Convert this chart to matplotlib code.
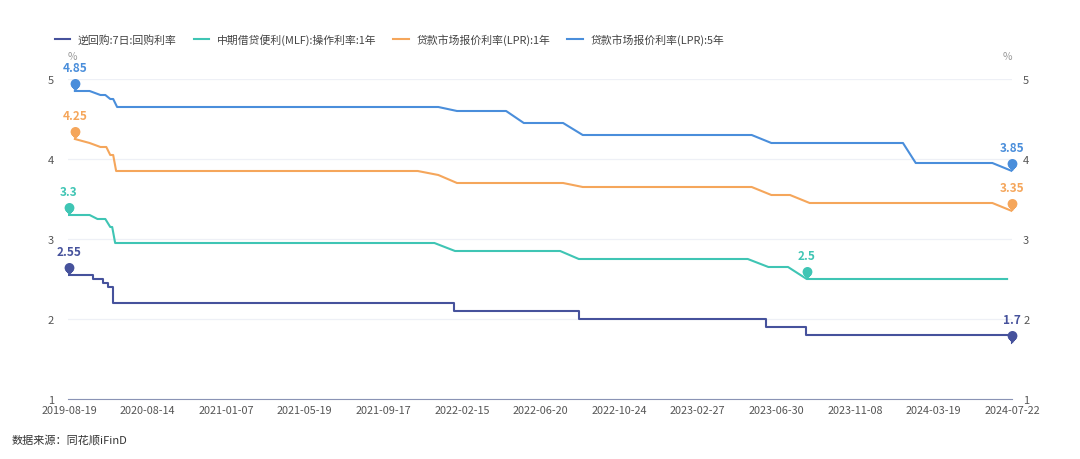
import numpy as np
import matplotlib
matplotlib.use('Agg')
import matplotlib.pyplot as plt
from matplotlib.path import Path

plt.rcParams['font.family'] = ['Noto Sans CJK SC', 'DejaVu Sans']

# x axis: observation index (category axis), 80 obs between labelled ticks
tick_labels = ['2019-08-19', '2020-08-14', '2021-01-07', '2021-05-19', '2021-09-17',
               '2022-02-15', '2022-06-20', '2022-10-24', '2023-02-27', '2023-06-30',
               '2023-11-08', '2024-03-19', '2024-07-22']

# 逆回购 7日 (daily, step changes)
repo_x = [0, 24, 35, 40, 45, 392, 519, 710, 750, 960]
repo_y = [2.55, 2.50, 2.45, 2.40, 2.20, 2.10, 2.00, 1.90, 1.80, 1.70]

# MLF 1年
mlf_x = [0, 21, 29, 37, 42, 44, 47, 372, 393, 500, 519, 691, 712, 732, 751, 955]
mlf_y = [3.30, 3.30, 3.25, 3.25, 3.15, 3.15, 2.95, 2.95, 2.85, 2.85, 2.75, 2.75, 2.65, 2.65, 2.50, 2.50]

# LPR 1年
lpr1_x = [6, 21, 32, 38, 42, 45, 48, 355, 376, 395, 503, 523, 695, 715, 734, 754, 940, 960]
lpr1_y = [4.25, 4.20, 4.15, 4.15, 4.05, 4.05, 3.85, 3.85, 3.80, 3.70, 3.70, 3.65, 3.65, 3.55, 3.55, 3.45, 3.45, 3.35]

# LPR 5年
lpr5_x = [6, 21, 32, 37, 42, 45, 49, 376, 395, 445, 463, 503, 523, 695, 715, 849, 862, 940, 960]
lpr5_y = [4.85, 4.85, 4.80, 4.80, 4.75, 4.75, 4.65, 4.65, 4.60, 4.60, 4.45, 4.45, 4.30, 4.30, 4.20, 4.20, 3.95, 3.95, 3.85]

names = ['逆回购:7日:回购利率', '中期借贷便利(MLF):操作利率:1年',
         '贷款市场报价利率(LPR):1年', '贷款市场报价利率(LPR):5年']
colors = ['#46529c', '#3fc5b4', '#f5a65b', '#4a8edb']

# pin marker, tip at origin (same winding for both parts so they merge)
circ = Path.circle(center=(0, 1.55), radius=1.0)
tri = Path([(-0.8, 1.05), (0, 0), (0.8, 1.05), (-0.8, 1.05)],
           [Path.MOVETO, Path.LINETO, Path.LINETO, Path.CLOSEPOLY])
pin = Path.make_compound_path(circ, tri)

fig = plt.figure(figsize=(10.8, 4.6), dpi=100)
ax = fig.add_axes([68/1080, 1-400/460, (1012-68)/1080, 320/460])

series = [(repo_x, repo_y, 'steps-post'), (mlf_x, mlf_y, 'default'),
          (lpr1_x, lpr1_y, 'default'), (lpr5_x, lpr5_y, 'default')]
for (xs, ys, ds), c, n in zip(series, colors, names):
    ax.plot(xs, ys, color=c, lw=1.5, drawstyle=ds, label=n, zorder=3)
    ys = np.array(ys)
    for i in [int(np.argmax(ys)), int(np.argmin(ys))]:
        ax.plot(xs[i], ys[i], marker=pin, markersize=18, color=c,
                markeredgewidth=0, clip_on=False, zorder=5)
        ax.annotate('%g' % ys[i], (xs[i], ys[i]), xytext=(0, 12.5),
                    textcoords='offset points', ha='center', va='bottom',
                    color=c, fontsize=8.5, fontweight='bold', annotation_clip=False)

ax.set_xlim(-1, 960)
ax.set_ylim(1, 5)
ax.set_yticks([1, 2, 3, 4, 5])
ax.set_xticks(np.arange(0, 961, 80))
ax.set_xticklabels(tick_labels)
ax.grid(axis='y', color='#eef0f6', lw=0.9, zorder=0)
for s in ['top', 'right', 'left']:
    ax.spines[s].set_visible(False)
ax.spines['bottom'].set_color('#8a93b5')
ax.tick_params(axis='x', length=0, pad=4, labelsize=7.8, labelcolor='#555555')
ax.tick_params(axis='y', length=0, pad=10, labelsize=8, labelcolor='#555555')

ax2 = ax.twinx()
ax2.set_ylim(1, 5)
ax2.set_yticks([1, 2, 3, 4, 5])
for s in ['top', 'right', 'left', 'bottom']:
    ax2.spines[s].set_visible(False)
ax2.tick_params(axis='y', length=0, pad=8, labelsize=8, labelcolor='#555555')

fig.text(72/1080, 1-57/460, '%', fontsize=7.5, color='#999999', ha='center', va='center')
fig.text(1007/1080, 1-57/460, '%', fontsize=7.5, color='#999999', ha='center', va='center')

fig.legend(loc='center left', bbox_to_anchor=(45/1080, 1-40/460), ncol=4, frameon=False,
           fontsize=7.8, handlelength=1.4, handletextpad=0.7, columnspacing=1.6,
           labelcolor='#444444')

fig.text(12/1080, 1-440/460, '数据来源：同花顺iFinD', fontsize=8, color='#333333',
         ha='left', va='center')

fig.savefig('out.png', dpi=100)
